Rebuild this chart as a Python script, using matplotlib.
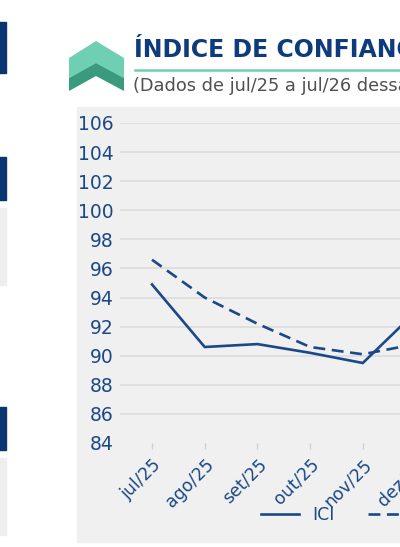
import matplotlib.pyplot as plt
from matplotlib.patches import Rectangle, Polygon

# dados (índice, pontos)
meses = ['jul/25', 'ago/25', 'set/25', 'out/25', 'nov/25', 'dez/25']
ici = [94.9, 90.6, 90.8, 90.2, 89.5, 93.0]
ici_tracejado = [96.6, 94.0, 92.2, 90.6, 90.1, 90.8]
y_ticks = [84, 86, 88, 90, 92, 94, 96, 98, 100, 102, 104, 106]

titulo = 'ÍNDICE DE CONFIANÇA DA INDÚSTRIA'
subtitulo = '(Dados de jul/25 a jul/26 dessazonalizados)'

azul = '#1b4886'
azul_titulo = '#0d3b7c'
teal_claro = '#6fcfb3'
teal_escuro = '#3a9a7e'
cinza_fundo = '#f0f0f0'

W, H = 400, 547
fig = plt.figure(figsize=(W / 100, H / 100), dpi=100)


def fx(px):
    return px / W


def fy(py):
    return 1 - py / H


# pedaços dos painéis vizinhos na borda esquerda
for y0, y1, cor in [(22, 73, '#0a3570'), (157, 200, '#0a3570'), (208, 285, '#eeeeee'),
                    (407, 450, '#0a3570'), (458, 535, '#eeeeee')]:
    fig.patches.append(Rectangle((fx(-4), fy(y1)), fx(10), fy(y0) - fy(y1),
                                 transform=fig.transFigure, color=cor, zorder=-2))

# fundo cinza do gráfico
fig.patches.append(Rectangle((fx(77), fy(542)), fx(340), fy(107) - fy(542),
                             transform=fig.transFigure, color=cinza_fundo, zorder=-2))

# ícone (chevron)
def poly(pts, cor):
    fig.patches.append(Polygon([(fx(x), fy(y)) for x, y in pts], closed=True,
                               transform=fig.transFigure, color=cor, lw=0, zorder=-1))


poly([(69, 58), (96, 41), (124, 58), (124, 78), (96, 63), (69, 78)], teal_claro)
poly([(69, 78), (96, 63), (124, 78), (124, 91), (96, 76), (69, 91)], teal_escuro)

# título
fig.text(fx(134), fy(57), titulo, fontsize=17, fontweight='bold', color=azul_titulo,
         ha='left', va='baseline')
fig.add_artist(plt.Line2D([fx(135), fx(420)], [fy(70), fy(70)], color=teal_claro, lw=1.8))
fig.text(fx(133), fy(86), subtitulo, fontsize=12.8, color='#505050', ha='left', va='center')

# eixos
sp = 52.7
x0 = 152
xmin, xmax = -0.6, 5.6
left = x0 + xmin * sp
right = x0 + xmax * sp
ax = fig.add_axes([fx(left), fy(443), fx(right - left), fy(123) - fy(443)])
ax.set_facecolor('none')

x = list(range(len(meses)))
ax.plot(x, ici, color=azul, lw=1.9, label='ICI', solid_joinstyle='miter')
ax.plot(x, ici_tracejado, color=azul, lw=1.9, ls=(0, (4.5, 2.5)), label='ICI dessazonalizado')

ax.set_xlim(xmin, xmax)
ax.set_ylim(84, 106)
ax.set_yticks(y_ticks)
ax.set_xticks(x)
ax.set_xticklabels(meses, rotation=45, ha='right', rotation_mode='anchor')
ax.grid(axis='y', color='#dcdcdc', lw=1.2)
ax.get_ygridlines()[0].set_visible(False)
ax.set_axisbelow(True)
for s in ax.spines.values():
    s.set_visible(False)
ax.tick_params(axis='y', length=0, pad=5, labelsize=13.5, labelcolor=azul)
ax.tick_params(axis='x', length=4, width=1, color='#d0d0d0', pad=5, labelsize=12.5, labelcolor=azul)

leg = ax.legend(loc='center left', bbox_to_anchor=(fx(245), fy(515)), bbox_transform=fig.transFigure,
                ncol=2, frameon=False, fontsize=12.5, handlelength=2.2, handletextpad=0.8,
                columnspacing=1.9, labelcolor=azul)

fig.savefig('out.png', dpi=100)
